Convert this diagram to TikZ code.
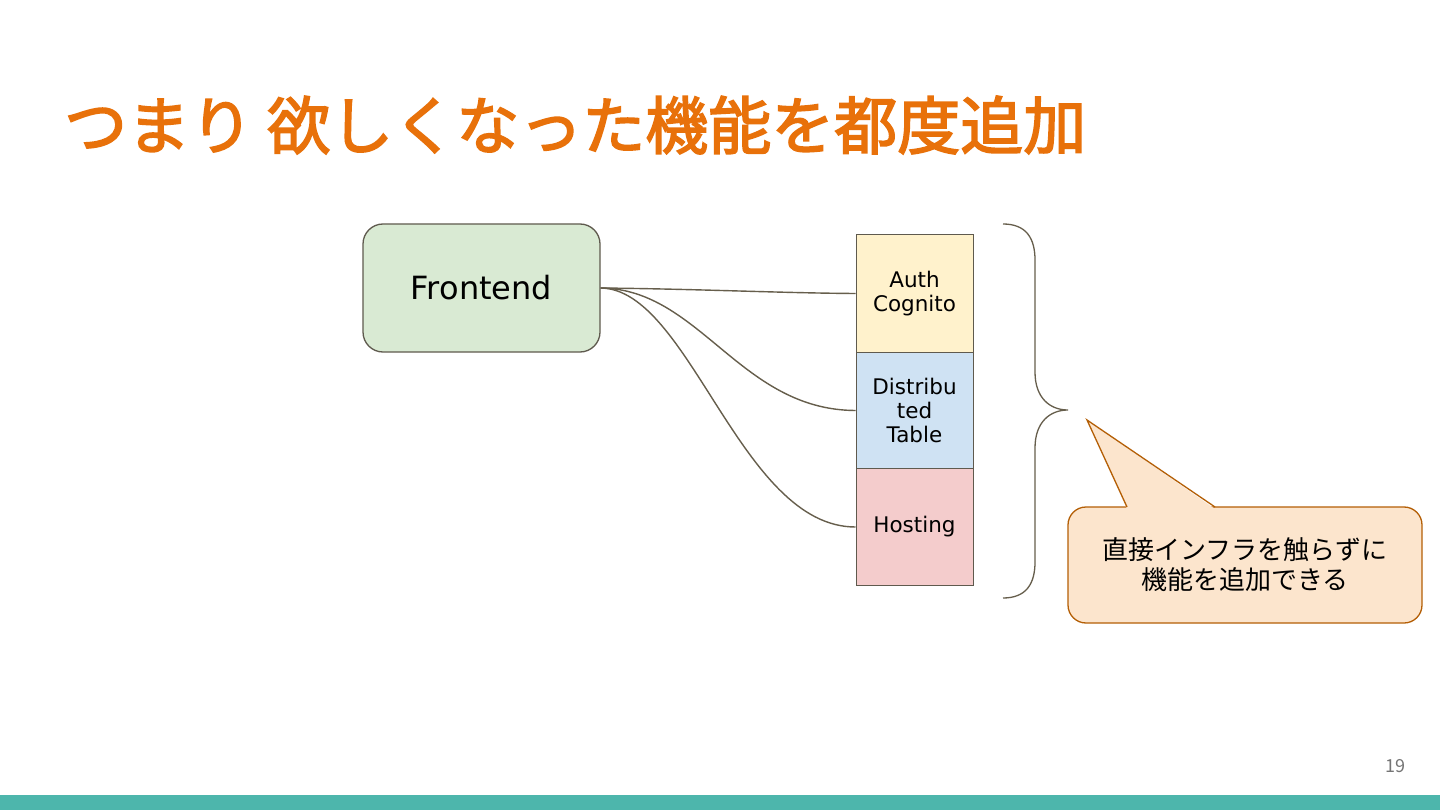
\documentclass[tikz,border=0pt]{standalone}
\usepackage{fontspec}
\setmainfont{Noto Sans CJK JP}
\newfontfamily\titlefont[FakeBold=2.5]{Noto Sans CJK JP}
\newfontfamily\boxfont{DejaVu Sans}
\definecolor{titleor}{HTML}{E8710A}
\definecolor{lineol}{HTML}{665E4C}
\definecolor{boxline}{HTML}{5F5A4E}
\definecolor{greenf}{HTML}{D9EAD3}
\definecolor{yellowf}{HTML}{FFF2CC}
\definecolor{bluef}{HTML}{CFE2F3}
\definecolor{pinkf}{HTML}{F4CCCC}
\definecolor{callf}{HTML}{FCE5CD}
\definecolor{calll}{HTML}{B45F06}
\definecolor{teal}{HTML}{4DB6AC}
\definecolor{numgray}{HTML}{757575}
\tikzset{
  stackbox/.style={draw=boxline, line width=1pt, minimum width=117pt, minimum height=117pt, inner sep=0pt, align=center, font=\boxfont\fontsize{21.5}{24}\selectfont},
  conn/.style={draw=lineol, line width=1.4pt},
}
\begin{document}
\begin{tikzpicture}[x=1pt,y=-1pt]
\useasboundingbox (0,0) rectangle (1440,810);
\fill[white] (0,0) rectangle (1440,810);
\fill[teal] (0,795) rectangle (1440,810);
\node[anchor=west, text=titleor, inner sep=0pt, font=\titlefont\fontsize{63}{68}\selectfont] (title) at (64,125) {つまり 欲しくなった機能を都度追加};
\node[draw=boxline, fill=greenf, line width=1.3pt, rounded corners=20pt, minimum width=237pt, minimum height=128pt, inner sep=0pt, font=\boxfont\fontsize{32}{36}\selectfont] (fe) at (481.5,288) {Frontend};
\node[stackbox, fill=yellowf] (auth) at (914.5,293.5) {Auth\\Cognito};
\node[stackbox, fill=bluef] (dist) at (914.5,410.5) {Distribu\\ted\\Table};
\node[stackbox, fill=pinkf] (host) at (914.5,527) {Hosting};
\draw[conn] (fe.east) .. controls (700,289) and (780,293) .. (auth.west);
\draw[conn] (fe.east) .. controls (700,289) and (740,410) .. (dist.west);
\draw[conn] (fe.east) .. controls (690,289) and (740,527) .. (host.west);
\coordinate (btop) at (1003,224);
\coordinate (btip) at (1068,410);
\coordinate (bbot) at (1003,598);
\draw[draw=lineol, line width=1.3pt] (btop) .. controls (1026,224) and (1035,238) .. (1035,260) -- (1035,372) .. controls (1035,398) and (1050,410) .. (btip) .. controls (1050,410) and (1035,422) .. (1035,448) -- (1035,562) .. controls (1035,584) and (1026,598) .. (bbot);
\node[draw=calll, fill=callf, line width=1.3pt, rounded corners=18pt, minimum width=354pt, minimum height=116pt, inner sep=0pt, align=center, font=\fontsize{26}{30}\selectfont] (call) at (1245,565) {直接インフラを触らずに\\機能を追加できる};
\coordinate (ctip) at (1087,420);
\fill[callf] (1127,509) -- (ctip) -- (1215,509) -- cycle;
\draw[draw=calll, line width=1.3pt, line join=miter] (1127,507) -- (ctip) -- (1215,507);
\node[text=numgray, font=\fontsize{18}{20}\selectfont] (pg) at (1395,766) {19};
\end{tikzpicture}
\end{document}
